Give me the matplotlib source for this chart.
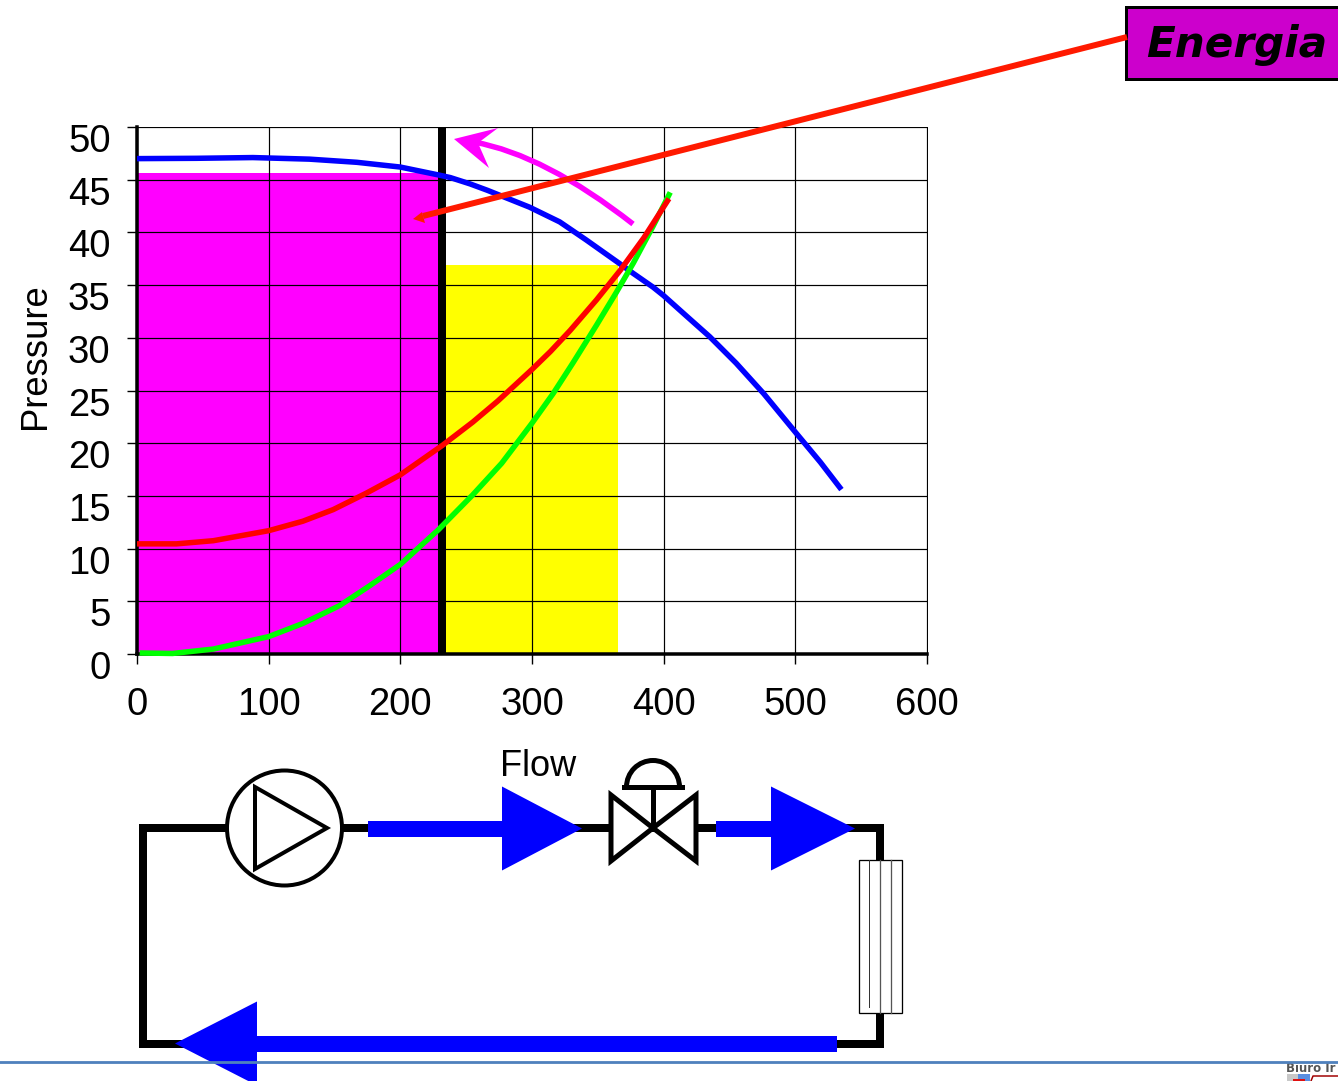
#pump curve chart with the circuit drawn underneath
import matplotlib
matplotlib.use("Agg")
import matplotlib.pyplot as plt
from matplotlib.patches import Circle, PathPatch, Polygon, Rectangle, Wedge
from matplotlib.path import Path
from matplotlib.transforms import ScaledTranslation

W = 1338
H = 1081
PX = 0.72  # one pixel in points at dpi 100

# curves
blue_flow = [0, 45, 88, 131, 167, 200, 229, 238, 253, 266, 298, 321, 341, 367, 377, 392, 400, 417, 435, 455, 476, 501, 519, 535]
blue_pressure = [47, 47.03, 47.1, 46.95, 46.65, 46.2, 45.45, 45.2, 44.6, 44, 42.4, 41, 39.3, 37, 36.1, 34.8, 34, 32.1, 30.1, 27.6, 24.7, 20.9, 18.2, 15.6]
red_flow = [0, 30, 58, 100, 126, 149, 174, 200, 232, 255, 274, 300, 314, 329, 349, 367, 385, 404]
red_pressure = [10.45, 10.45, 10.75, 11.7, 12.6, 13.7, 15.25, 17, 19.8, 22, 24, 27, 28.7, 30.7, 33.6, 36.4, 39.5, 43.2]
green_flow = [2, 27, 58, 100, 126, 154, 177, 200, 229, 255, 277, 300, 316, 331, 349, 364, 377, 392, 405]
green_pressure = [0.1, 0.05, 0.47, 1.65, 2.9, 4.6, 6.5, 8.5, 11.8, 15.1, 18.1, 21.9, 24.7, 27.6, 31.2, 34.3, 37.1, 40.6, 43.8]

# operating point areas
duty_flow = 232
duty_pressure = 45.6
open_flow = 365.5
open_pressure = 36.9

flow_ticks = [0, 100, 200, 300, 400, 500, 600]
pressure_ticks = [0, 5, 10, 15, 20, 25, 30, 35, 40, 45, 50]

plt.rcParams['font.family'] = ['Liberation Sans', 'DejaVu Sans']

fig = plt.figure(figsize=(W / 100, H / 100), dpi=100)
ax = fig.add_axes([137 / W, (H - 654) / H, 790 / W, 527 / H])

ax.bar([duty_flow], [open_pressure], width=open_flow - duty_flow, align='edge', color='#ffff00', zorder=1)
ax.bar([0], [duty_pressure], width=duty_flow, align='edge', color='#ff00ff', zorder=1)
ax.axvline(duty_flow, color='black', lw=8 * PX, zorder=3)
ax.plot(blue_flow, blue_pressure, color='#0000ff', lw=5.5 * PX, zorder=4, solid_capstyle='butt', solid_joinstyle='round')
ax.plot(green_flow, green_pressure, color='#00ff00', lw=5.5 * PX, zorder=5, solid_capstyle='butt', solid_joinstyle='round', clip_on=False)
ax.plot(red_flow, red_pressure, color='#ff0000', lw=5.5 * PX, zorder=6, solid_capstyle='butt', solid_joinstyle='round')

ax.set_xlim(0, 600)
ax.set_ylim(0, 50)
ax.set_xticks(flow_ticks)
ax.set_yticks(pressure_ticks)
ax.grid(True, color='black', lw=1.2 * PX)
ax.set_axisbelow(False)
ax.tick_params(axis='both', labelsize=27.5, length=7.5, width=1, color='black')
ax.tick_params(axis='x', pad=16)
ax.tick_params(axis='y', pad=11.5)
for name, spine in ax.spines.items():
    spine.set_linewidth(1 * PX)
ax.spines['left'].set_linewidth(3.5 * PX)
ax.spines['bottom'].set_linewidth(3.5 * PX)

# the pressure labels sit a little under their ticks
shift = ScaledTranslation(0, -11 / 100, fig.dpi_scale_trans)
for label in ax.get_yticklabels():
    label.set_transform(label.get_transform() + shift)

# everything else is placed in picture pixels
over = fig.add_axes([0, 0, 1, 1])
over.set_xlim(0, W)
over.set_ylim(H, 0)
over.axis('off')
over.patch.set_alpha(0)

over.text(538, 767, 'Flow', fontsize=26, ha='center', va='center')
over.text(35, 356, 'Pressure', fontsize=26.3, rotation=90, ha='center', va='center')

# annotations on the chart
bend = Path([(633, 224), (545, 155), (474, 142)], [Path.MOVETO, Path.CURVE3, Path.CURVE3])
over.add_patch(PathPatch(bend, fc='none', ec='#ff00ff', lw=5.5 * PX, capstyle='butt'))
over.add_patch(Polygon([(454, 139), (498, 128), (478, 143), (489, 168)], fc='#ff00ff', ec='none'))
over.plot([1127, 423], [37, 216], color='#ff1a00', lw=6 * PX, solid_capstyle='butt')
over.add_patch(Polygon([(413, 219), (422, 212), (425, 223)], fc='#ff1a00', ec='none'))

over.add_patch(Rectangle((1126, 7), 230, 72, fc='#cc00cc', ec='black', lw=3 * PX))
over.text(1146, 45.5, 'Energia', fontsize=30.3, fontweight='bold', fontstyle='italic', family='DejaVu Sans', ha='left', va='center')

# circuit
over.plot([226, 143, 143, 880, 880, 582, 226], [828, 828, 1044, 1044, 828, 828, 828], color='black', lw=8 * PX, solid_joinstyle='miter')
over.add_patch(Circle((284.5, 828), 57.5, fc='white', ec='black', lw=4 * PX, zorder=3))
over.add_patch(Polygon([(255, 787), (327, 828), (255, 869)], fc='white', ec='black', lw=4 * PX, zorder=4))

over.add_patch(Polygon([(611, 795), (653, 828), (611, 861)], fc='white', ec='black', lw=5 * PX, zorder=3))
over.add_patch(Polygon([(696, 795), (653, 828), (696, 861)], fc='white', ec='black', lw=5 * PX, zorder=3))
over.plot([653, 653], [828, 787], color='black', lw=5 * PX, zorder=4)
over.add_patch(Wedge((653, 787), 29, 180, 360, width=5, fc='black', ec='none', zorder=4))
over.plot([624, 682], [787, 787], color='black', lw=5 * PX, zorder=4)

over.add_patch(Rectangle((859, 860), 42.5, 153, fc='white', ec='black', lw=1.3 * PX, zorder=3))
over.plot([869, 869], [860, 1007], color='#333333', lw=1 * PX, zorder=4)
over.plot([880, 880], [860, 1013], color='#555555', lw=1.3 * PX, zorder=4)
over.plot([891, 891], [860, 1013], color='#555555', lw=1.3 * PX, zorder=4)

# flow arrows
def flow_arrow(x0, x_base, x_tip, y):
    over.add_patch(Rectangle((min(x0, x_base), y - 8), abs(x_base - x0), 16, fc='#0000ff', ec='none', zorder=5))
    over.add_patch(Polygon([(x_base, y - 42), (x_tip, y), (x_base, y + 42)], fc='#0000ff', ec='none', zorder=5))

flow_arrow(368, 502, 582, 828.5)
flow_arrow(716, 771, 855, 828.5)
flow_arrow(837, 257, 175, 1043.5)

# footer line and logo corner
over.plot([0, W], [1062, 1062], color='#4f81bd', lw=2.8 * PX, zorder=6)
over.text(1286, 1068.5, 'Biuro Ir', fontsize=8.5, fontweight='bold', color='#555555', family='DejaVu Sans', ha='left', va='center')
over.add_patch(Rectangle((1287, 1074), 23, 7, fc='#c8c8c8', ec='none'))
over.add_patch(Rectangle((1298, 1074), 12, 7, fc='#5a8ee0', ec='none'))
over.add_patch(Rectangle((1293, 1079), 12, 2, fc='#e01010', ec='none'))
over.plot([1311, 1313, 1338], [1081, 1076, 1076], color='#a00000', lw=1.5 * PX)

plt.savefig('out.png', dpi=100)
